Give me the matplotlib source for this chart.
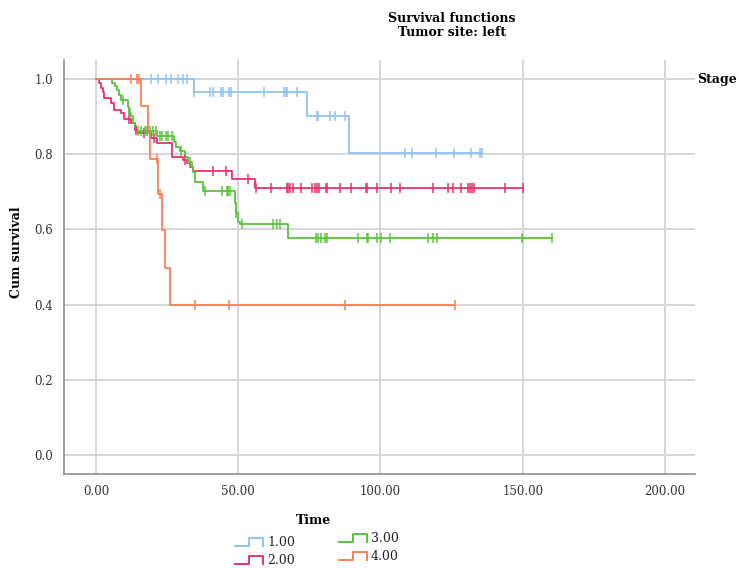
import numpy as np
import matplotlib
matplotlib.use("Agg")
import matplotlib.pyplot as plt
from matplotlib.lines import Line2D

plt.rcParams['font.family'] = ['DejaVu Serif']

# --- data (step start times, survival after the step, censor times) ---
stage_names = ["1.00", "2.00", "3.00", "4.00"]
stage_colors = ['#91c3ef', '#e8336b', '#5cc33c', '#f97f5a']

s1_t = [0, 34.4, 74.2, 89.0]
s1_s = [1.0, 0.966, 0.902, 0.803]
s1_cens = [19.3, 21.8, 24.6, 26.4, 28.8, 30.6, 32.0, 34.4, 40.0, 41.1, 43.9, 44.6,
           46.7, 47.4, 59.0, 66.0, 66.8, 67.1, 70.6, 77.7, 78.0, 82.2, 84.0, 87.5,
           108.6, 111.0, 119.5, 125.8, 131.8, 134.9, 135.6]

s2_t = [0, 1.0, 1.9, 2.5, 3.0, 5.2, 6.3, 8.9, 10.0, 12.4, 13.6, 14.8, 19.5, 21.5,
        26.6, 30.7, 31.9, 33.0, 34.2, 47.7, 55.9]
s2_s = [1.0, 0.988, 0.975, 0.966, 0.949, 0.935, 0.918, 0.909, 0.893, 0.882, 0.864,
        0.856, 0.843, 0.829, 0.792, 0.785, 0.776, 0.767, 0.755, 0.733, 0.711]
s2_cens = [11.5, 14.2, 17.0, 20.5, 31.3, 41.2, 45.7, 53.3, 56.2, 61.5, 67.1, 67.5,
           68.2, 69.2, 71.9, 76.1, 77.0, 77.8, 78.5, 80.8, 81.3, 85.7, 89.6, 94.9,
           95.2, 98.6, 103.7, 106.8, 118.4, 123.7, 125.4, 128.2, 130.8, 131.4,
           132.0, 132.9, 143.7, 150.1]

s3_t = [0, 5.7, 6.6, 7.4, 8.0, 8.9, 11.2, 11.8, 12.4, 13.0, 13.6, 14.2, 21.3, 27.5,
        28.3, 29.5, 31.3, 32.4, 33.6, 34.1, 34.8, 37.7, 48.8, 49.4, 50.0, 50.6, 67.6]
s3_s = [1.0, 0.988, 0.98, 0.969, 0.956, 0.944, 0.926, 0.909, 0.9, 0.882, 0.873,
        0.862, 0.848, 0.833, 0.82, 0.807, 0.793, 0.78, 0.767, 0.753, 0.727, 0.702,
        0.669, 0.644, 0.62, 0.614, 0.577]
s3_cens = [9.5, 12.0, 14.8, 16.0, 17.2, 17.8, 19.0, 20.1, 21.0, 22.5, 23.4, 24.6,
           25.4, 26.6, 30.0, 33.2, 38.3, 44.2, 45.9, 46.5, 47.1, 49.4, 51.2, 62.3,
           63.5, 64.7, 77.3, 78.1, 79.1, 80.5, 81.3, 92.2, 95.1, 95.7, 98.6, 100.1,
           103.3, 116.8, 118.5, 119.7, 149.6, 160.1]

s4_t = [0, 16.0, 18.3, 18.9, 21.9, 23.3, 24.2, 26.2]
s4_s = [1.0, 0.929, 0.857, 0.786, 0.693, 0.597, 0.497, 0.399]
s4_cens = [12.5, 14.3, 15.2, 21.3, 22.5, 35.0, 46.8, 87.5, 126.1]

x_ticks = [0, 50, 100, 150, 200]
y_ticks = [0.0, 0.2, 0.4, 0.6, 0.8, 1.0]

W, H = 739, 568
fig = plt.figure(figsize=(W / 100, H / 100), dpi=100)
ax = fig.add_axes([64 / W, 1 - 474 / H, (695 - 64) / W, (474 - 60) / H])

grid_c = '#d3d7d7'
for xv in x_ticks:
    ax.axvline(xv, color=grid_c, lw=1.4, zorder=0)
for yv in y_ticks:
    ax.axhline(yv, color=grid_c, lw=1.4, zorder=0)

groups = [(s1_t, s1_s, s1_cens), (s2_t, s2_s, s2_cens),
          (s3_t, s3_s, s3_cens), (s4_t, s4_s, s4_cens)]
for (t, s, cens), col in zip(groups, stage_colors):
    t = np.array(t, float)
    s = np.array(s, float)
    cens = np.array(cens, float)
    end = cens.max()
    tt = np.append(t, end)
    ss = np.append(s, s[-1])
    ax.step(tt, ss, where='post', color=col, lw=1.3, zorder=3)
    idx = np.searchsorted(t, cens, side='right') - 1
    ax.plot(cens, s[idx], ls='none', marker='|', ms=7, mew=1.1, color=col, zorder=4)

ax.set_xlim(-11.2, 210.5)
ax.set_ylim(-0.05, 1.05)
ax.set_xticks(x_ticks)
ax.set_xticklabels([f"{v:.2f}" for v in x_ticks])
ax.set_yticks(y_ticks)
ax.set_yticklabels([f"{v:.1f}" for v in y_ticks])
ax.tick_params(length=0, labelsize=8.5, colors='#333333', pad=8)
for sp in ['top', 'right']:
    ax.spines[sp].set_visible(False)
for sp in ['left', 'bottom']:
    ax.spines[sp].set_color('#8a8f8f')
    ax.spines[sp].set_linewidth(1.2)

# titles and labels
fig.text(452 / W, 1 - 18 / H, "Survival functions", ha='center', va='center',
         fontsize=9, fontweight='bold')
fig.text(452 / W, 1 - 33 / H, "Tumor site: left", ha='center', va='center',
         fontsize=9, fontweight='bold')
fig.text(17 / W, 1 - 252 / H, "Cum survival", rotation=90, ha='center', va='center',
         fontsize=9, fontweight='bold')
fig.text(697 / W, 1 - 79 / H, "Stage", ha='left', va='center',
         fontsize=9, fontweight='bold')
fig.text(313 / W, 1 - 521 / H, "Time", ha='center', va='center',
         fontsize=9, fontweight='bold')

# legend with step-shaped glyphs
legend_pos = [(235, 546), (235, 564), (339, 542), (339, 560)]
for name, col, (lx, ly) in zip(stage_names, stage_colors, legend_pos):
    xs = np.array([lx, lx + 14, lx + 14, lx + 28, lx + 28]) / W
    ys = 1 - np.array([ly, ly, ly - 8, ly - 8, ly]) / H
    fig.add_artist(Line2D(xs, ys, color=col, lw=1.4, transform=fig.transFigure))
    fig.text((lx + 32) / W, 1 - (ly - 4) / H, name, ha='left', va='center',
             fontsize=9, color='#222222')

fig.savefig("out.png", dpi=100)
